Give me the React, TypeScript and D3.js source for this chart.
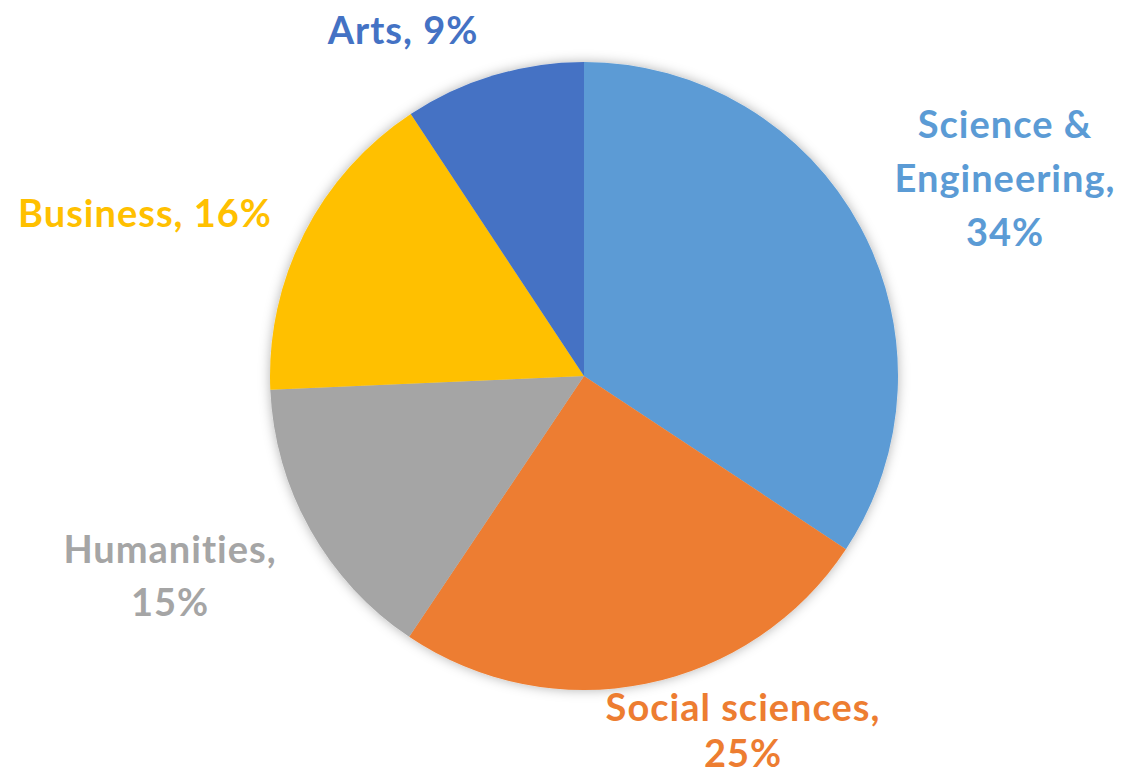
import React from "react";
import * as d3 from "d3";

const categories = ["Science & Engineering", "Social sciences", "Humanities", "Business", "Arts"];
const values = [34.3, 25.1, 14.9, 16.4, 9.3];
const labelTexts = [
  ["Science &", "Engineering,", "34%"],
  ["Social sciences,", "25%"],
  ["Humanities,", "15%"],
  ["Business, 16%"],
  ["Arts, 9%"],
];
const colors = ["#5B9BD5", "#ED7D31", "#A5A5A5", "#FFC000", "#4472C4"];
const labelPos = [
  [1005, 123],
  [743, 706],
  [170, 548],
  [145, 212],
  [403, 29],
];
const labelLineH = [54, 46, 53, 0, 0];

export default function App() {
  const W = 1124, H = 774;
  const cx = 584, cy = 376, r = 314;
  const pie = d3.pie<number>().sort(null).value((d) => d);
  const arcs = pie(values);
  const arc = d3.arc<d3.PieArcDatum<number>>().innerRadius(0).outerRadius(r);
  return (
    <svg width={W} height={H} style={{ position: "absolute", left: 0, top: 0, background: "#fff" }}>
      <defs>
        <filter id="sh" x="-20%" y="-20%" width="140%" height="140%">
          <feDropShadow dx="0" dy="0" stdDeviation="6" floodColor="#000" floodOpacity="0.3" />
        </filter>
      </defs>
      <g transform={`translate(${cx},${cy})`} filter="url(#sh)">
        {arcs.map((a, i) => (
          <path key={categories[i]} d={arc(a) || ""} fill={colors[i]} />
        ))}
      </g>
      {labelTexts.map((lines, i) => {
        const [x, y] = labelPos[i];
        return (
          <text
            key={categories[i]}
            x={x}
            textAnchor="middle"
            fill={colors[i]}
            fontFamily="Lato, 'Open Sans', sans-serif"
            fontWeight="bold"
            fontSize={38}
            letterSpacing={1}
          >
            {lines.map((l, j) => (
              <tspan key={j} x={x} y={y + j * labelLineH[i]} dominantBaseline="central">
                {l}
              </tspan>
            ))}
          </text>
        );
      })}
    </svg>
  );
}
